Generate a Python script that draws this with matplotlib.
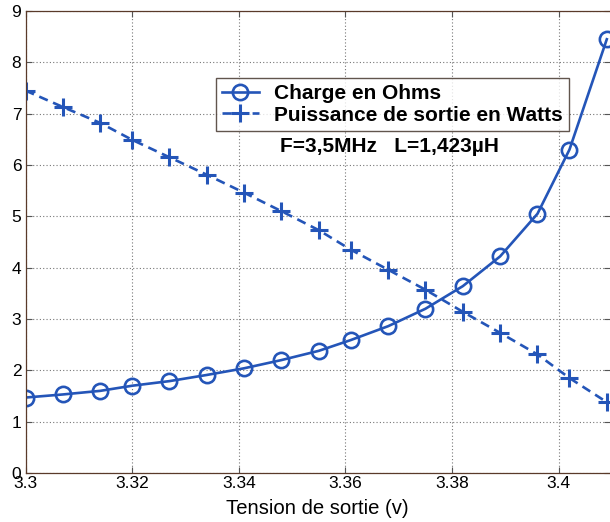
import matplotlib
matplotlib.use("Agg")
import matplotlib.pyplot as plt

plt.rcParams['font.family'] = ['Liberation Sans', 'DejaVu Sans']

tension = [3.300, 3.307, 3.314, 3.320, 3.327, 3.334, 3.341, 3.348, 3.355,
           3.361, 3.368, 3.375, 3.382, 3.389, 3.396, 3.402, 3.409]
charge = [1.47, 1.53, 1.60, 1.70, 1.79, 1.91, 2.04, 2.20, 2.38,
          2.59, 2.86, 3.20, 3.64, 4.22, 5.05, 6.30, 8.45]
puissance = [7.45, 7.13, 6.82, 6.49, 6.15, 5.81, 5.46, 5.10, 4.73,
             4.35, 3.96, 3.57, 3.14, 2.73, 2.31, 1.85, 1.38]
xticks = [3.30, 3.32, 3.34, 3.36, 3.38, 3.40]
xticklabels = ['3.3', '3.32', '3.34', '3.36', '3.38', '3.4']
yticks = list(range(0, 10))

blue = '#2455b8'

fig = plt.figure(figsize=(6.10, 5.22), dpi=100)
ax = fig.add_axes([25.5/610, 49/522, (610-25.5)/610, 462/522])

ax.plot(tension, charge, '-o', color=blue, lw=1.9, ms=11, mew=1.9,
        mfc='none', label='Charge en Ohms')
ax.plot(tension, puissance, '--+', color=blue, lw=1.9, ms=13, mew=2.2,
        label='Puissance de sortie en Watts', dashes=(3.5, 2.2))

ax.set_xlim(3.3, 3.4096)
ax.set_ylim(0, 9)
ax.set_xticks(xticks)
ax.set_xticklabels(xticklabels)
ax.set_yticks(yticks)
ax.tick_params(direction='in', top=True, right=True, labelsize=12.5,
               length=4, width=0.8, color='#555555')
ax.tick_params(axis='x', pad=2)
ax.tick_params(axis='y', pad=3)
ax.grid(True, linestyle=(0, (1, 2)), color='#777777', lw=0.8)
for s in ax.spines.values():
    s.set_color('#5a3a2a')
    s.set_linewidth(0.9)
ax.spines['right'].set_visible(False)

ax.set_xlabel('Tension de sortie (v)', fontsize=14.6, labelpad=6)

leg = ax.legend(loc='upper left', bbox_to_anchor=((216-25.5)/584.5, (473-78)/462),
                prop={'weight': 'bold', 'size': 15}, frameon=True, fancybox=False,
                edgecolor='#3a2a20', borderpad=0.3, handlelength=1.75,
                handletextpad=0.75, labelspacing=0.12, borderaxespad=0)
leg.get_frame().set_linewidth(1.0)

ax.text(3.3 + (280-25.5)/5325, (473-147)/51.33, 'F=3,5MHz   L=1,423µH',
        fontsize=15, fontweight='bold', va='center', ha='left')

fig.savefig('out.png', dpi=100)
